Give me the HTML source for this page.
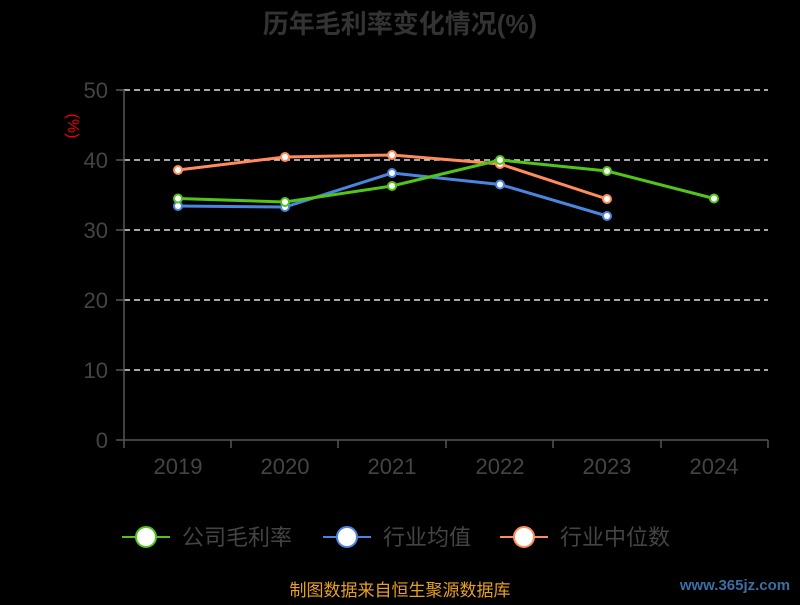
<!DOCTYPE html><html><head><meta charset="utf-8"><style>body{margin:0;background:#000}</style></head><body>
<svg width="800" height="600" xmlns="http://www.w3.org/2000/svg" font-family="Liberation Sans, Noto Sans CJK SC, sans-serif">
<rect width="800" height="600" fill="#000"/>
<text x="400" y="33" text-anchor="middle" font-size="26" font-weight="bold" fill="#333">历年毛利率变化情况(%)</text>
<text x="68" y="126" transform="rotate(90 68 126)" font-size="16" fill="#e00" text-anchor="middle">(%)</text>
<g stroke="#ddd" stroke-dasharray="6,4" stroke-width="1.5">
<line x1="124" y1="90" x2="768" y2="90"/><line x1="124" y1="160" x2="768" y2="160"/><line x1="124" y1="230" x2="768" y2="230"/><line x1="124" y1="300" x2="768" y2="300"/><line x1="124" y1="370" x2="768" y2="370"/></g>
<g stroke="#555" stroke-width="1.5"><line x1="124" y1="90" x2="124" y2="440"/><line x1="124" y1="440" x2="768" y2="440"/>
<line x1="116" y1="90" x2="124" y2="90"/><line x1="116" y1="160" x2="124" y2="160"/><line x1="116" y1="230" x2="124" y2="230"/><line x1="116" y1="300" x2="124" y2="300"/><line x1="116" y1="370" x2="124" y2="370"/><line x1="116" y1="440" x2="124" y2="440"/>
<line x1="124" y1="440" x2="124" y2="448"/><line x1="231" y1="440" x2="231" y2="448"/><line x1="338" y1="440" x2="338" y2="448"/><line x1="446" y1="440" x2="446" y2="448"/><line x1="553" y1="440" x2="553" y2="448"/><line x1="661" y1="440" x2="661" y2="448"/><line x1="768" y1="440" x2="768" y2="448"/></g>
<g fill="#444" font-size="22" text-anchor="end"><text x="108" y="98">50</text><text x="108" y="168">40</text><text x="108" y="238">30</text><text x="108" y="308">20</text><text x="108" y="378">10</text><text x="108" y="448">0</text></g>
<g fill="#444" font-size="22" text-anchor="middle"><text x="178" y="474">2019</text><text x="285" y="474">2020</text><text x="392" y="474">2021</text><text x="500" y="474">2022</text><text x="607" y="474">2023</text><text x="714" y="474">2024</text></g>
<g fill="none" stroke-width="3">
<polyline stroke="#ff8c5a" points="178,170 285,157 392,155 500,164 607,199"/>
<polyline stroke="#4a86e0" points="178,206 285,207 392,173 500,184.5 607,216"/>
<polyline stroke="#52c41a" points="178,198.5 285,202 392,186 500,160 607,171 714,198.5"/></g>
<g fill="#fff" stroke-width="2">
<g stroke="#ff8c5a"><circle cx="178" cy="170" r="4"/><circle cx="285" cy="157" r="4"/><circle cx="392" cy="155" r="4"/><circle cx="500" cy="164" r="4"/><circle cx="607" cy="199" r="4"/></g>
<g stroke="#4a86e0"><circle cx="178" cy="206" r="4"/><circle cx="285" cy="207" r="4"/><circle cx="392" cy="173" r="4"/><circle cx="500" cy="184.5" r="4"/><circle cx="607" cy="216" r="4"/></g>
<g stroke="#52c41a"><circle cx="178" cy="198.5" r="4"/><circle cx="285" cy="202" r="4"/><circle cx="392" cy="186" r="4"/><circle cx="500" cy="160" r="4"/><circle cx="607" cy="171" r="4"/><circle cx="714" cy="198.5" r="4"/></g></g>
<g stroke-width="2">
<line x1="122" y1="537" x2="170" y2="537" stroke="#52c41a"/><circle cx="146" cy="537" r="10" fill="#fff" stroke="#52c41a"/>
<line x1="323" y1="537" x2="371" y2="537" stroke="#4a86e0"/><circle cx="347" cy="537" r="10" fill="#fff" stroke="#4a86e0"/>
<line x1="500" y1="537" x2="548" y2="537" stroke="#ff8c5a"/><circle cx="524" cy="537" r="10" fill="#fff" stroke="#ff8c5a"/></g>
<g fill="#444" font-size="22"><text x="182" y="545">公司毛利率</text><text x="383" y="545">行业均值</text><text x="560" y="545">行业中位数</text></g>
<text x="400" y="596" text-anchor="middle" font-size="17" fill="#e8a020">制图数据来自恒生聚源数据库</text>
<text x="735" y="590" text-anchor="middle" font-size="15" font-weight="bold" fill="#3a6ea5">www.365jz.com</text>
</svg></body></html>
